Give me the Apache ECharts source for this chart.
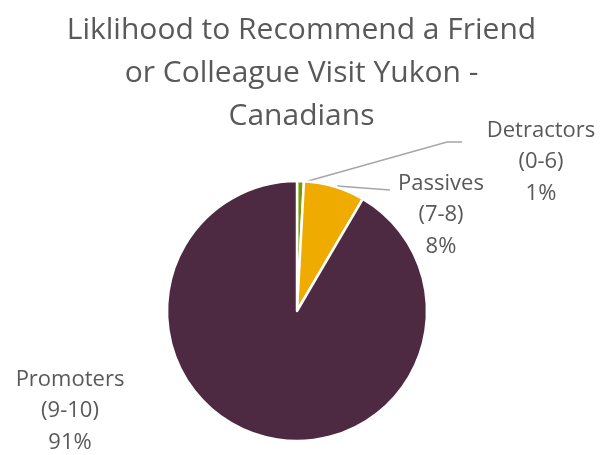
<!DOCTYPE html>
<html>
<head>
<meta charset="utf-8">
<script src="https://cdn.jsdelivr.net/npm/echarts@6/dist/echarts.min.js"></script>
<style>
html,body{margin:0;padding:0;background:#fff;}
#chart{width:603px;height:455px;}
</style>
</head>
<body>
<div id="chart"></div>
<script>
var titleText = 'Liklihood to Recommend a Friend\nor Colleague Visit Yukon -\nCanadians';
var categories = ['Detractors', 'Passives', 'Promoters'];
var ranges = ['(0-6)', '(7-8)', '(9-10)'];
var values = [0.85, 7.6, 91.55];
var shownPct = [1, 8, 91];
var colors = ['#7A9A01', '#F0AB00', '#4E2A42'];

var labelCenters = [[541, 162], [441, 215], [70, 411]];
var leaderPoints = [
  [[301, 183], [447, 142], [462, 142]],
  [[337, 186], [390, 190]],
  null
];

var chart = echarts.init(document.getElementById('chart'), null, {renderer: 'canvas'});
var fontFam = '"Open Sans", Lato, sans-serif';

chart.setOption({
  animation: false,
  title: {
    text: titleText,
    left: 'center',
    top: 4,
    textStyle: {
      fontFamily: fontFam,
      fontSize: 30,
      fontWeight: 'normal',
      color: '#595959',
      lineHeight: 43
    }
  },
  series: [{
    type: 'pie',
    center: [297, 311],
    radius: [0, 130],
    startAngle: 90,
    clockwise: true,
    avoidLabelOverlap: false,
    itemStyle: {borderColor: '#ffffff', borderWidth: 2.5},
    label: {
      show: true,
      fontFamily: fontFam,
      fontSize: 22,
      color: '#595959',
      lineHeight: 31.5,
      align: 'center',
      formatter: function (p) {
        return categories[p.dataIndex] + '\n' + ranges[p.dataIndex] + '\n' + shownPct[p.dataIndex] + '%';
      }
    },
    labelLine: {show: true, lineStyle: {color: '#A6A6A6', width: 1.5}},
    labelLayout: function (params) {
      var i = params.dataIndex;
      var c = labelCenters[i];
      var r = {
        x: c[0],
        y: c[1],
        align: 'center',
        verticalAlign: 'middle'
      };
      if (leaderPoints[i]) r.labelLinePoints = leaderPoints[i];
      return r;
    },
    data: categories.map(function (n, i) {
      var d = {name: n, value: values[i], itemStyle: {color: colors[i]}};
      if (!leaderPoints[i]) d.labelLine = {show: false};
      return d;
    })
  }]
});
</script>
</body>
</html>
